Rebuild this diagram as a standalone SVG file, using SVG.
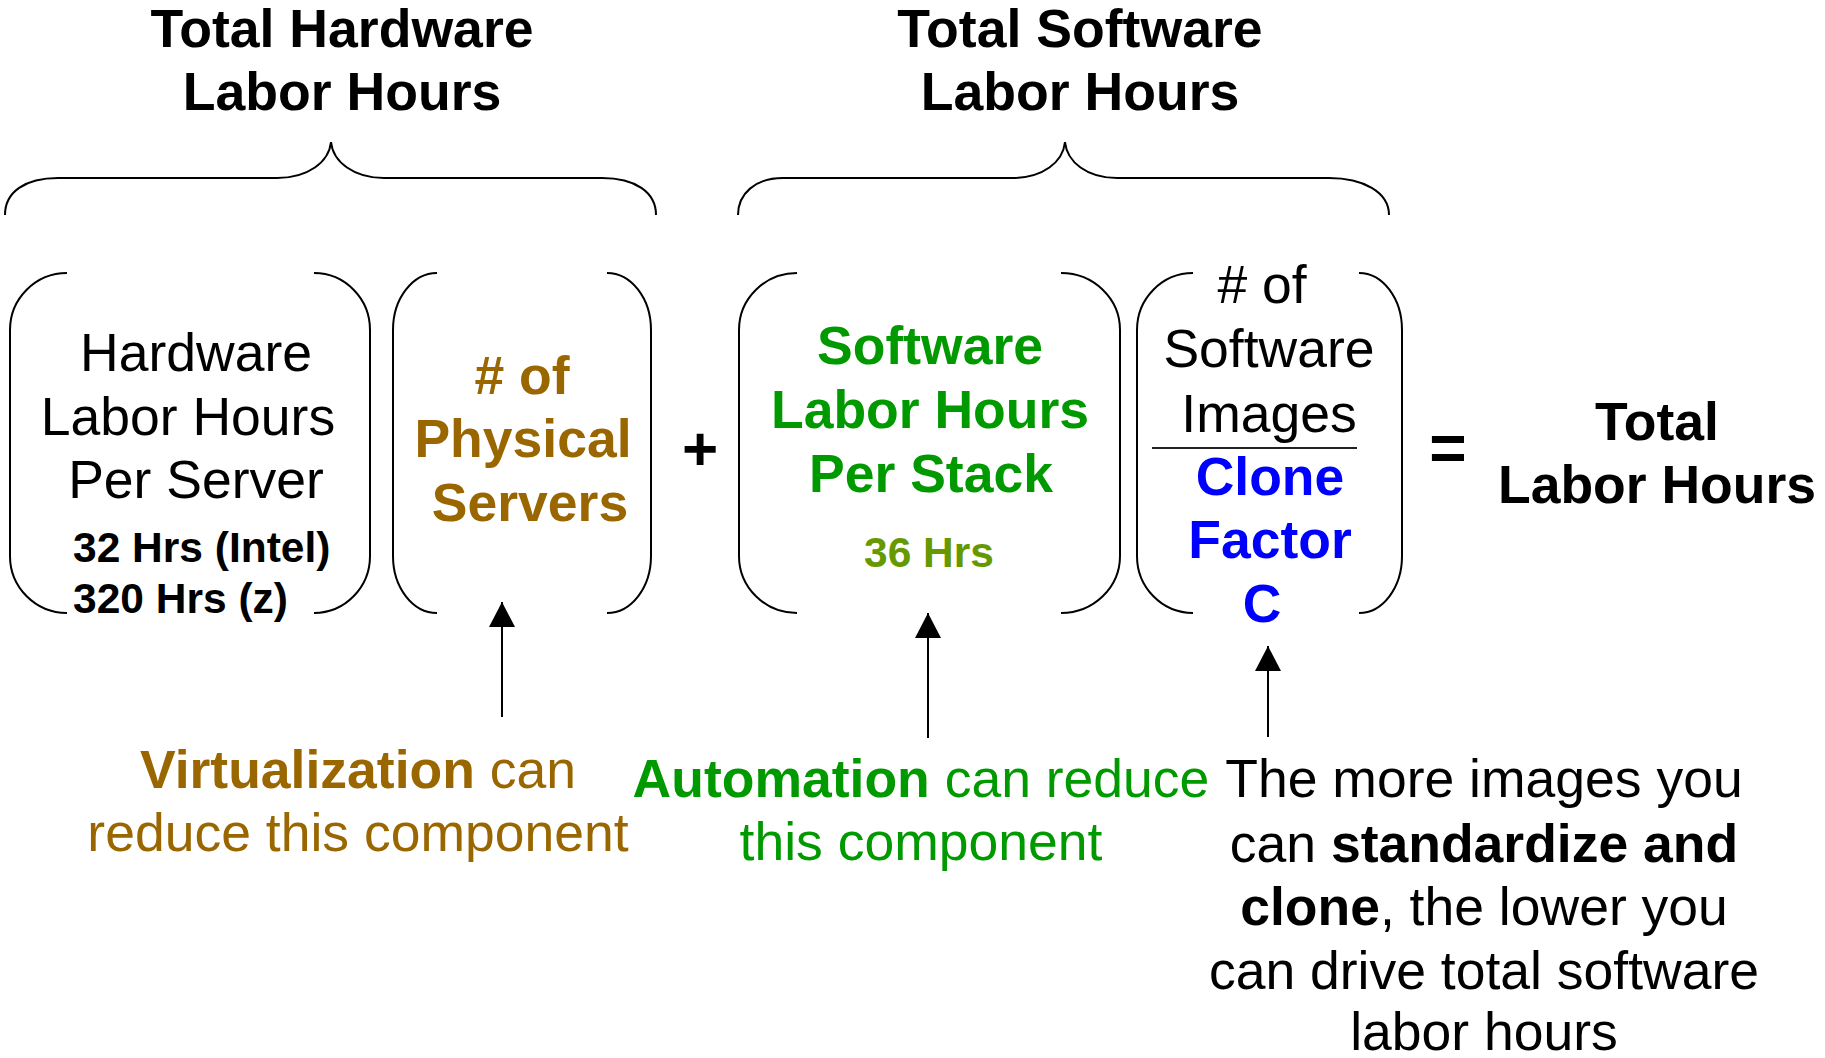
<svg xmlns="http://www.w3.org/2000/svg" width="1825" height="1058" viewBox="0 0 1825 1058">
  <style>
    text { font-family: "Liberation Sans", Arial, sans-serif; font-size: 53.5px; text-anchor: middle; fill: #000; }
    .b { font-weight: bold; }
    .title { font-weight: bold; font-size: 53.6px; }
    .small { font-weight: bold; font-size: 42.5px; }
    .brown { fill: #996600; }
    .green { fill: #009900; }
    .olive { fill: #669900; }
    .blue { fill: #0000ff; }
    .line { fill: none; stroke: #000; stroke-width: 2; }
  </style>
  <defs>
    <marker id="head" markerUnits="userSpaceOnUse" markerWidth="26" markerHeight="26" refX="25" refY="13" orient="auto">
      <path d="M0,0 L25,13 L0,26 Z" fill="#000"/>
    </marker>
  </defs>
  <rect width="1825" height="1058" fill="#fff"/>

  <!-- group headings with their curly braces -->
  <g id="hardware-total">
    <text class="title" x="342" y="47">Total Hardware</text>
    <text class="title" x="342" y="110">Labor Hours</text>
    <path class="line" d="M5,215 C5,192 25,178 58,178 L277,178 C308,178 329,162 331,142 C333,162 354,178 384,178 L602,178 C635,178 656,192 656,215"/>
  </g>
  <g id="software-total">
    <text class="title" x="1080" y="47">Total Software</text>
    <text class="title" x="1080" y="110">Labor Hours</text>
    <path class="line" d="M738,215 C738,194 755,178 783,178 L1012,178 C1043,178 1063,162 1065,142 C1067,162 1087,178 1117,178 L1329,178 C1363,178 1389,192 1389,215"/>
  </g>

  <!-- factor: hardware hours per server -->
  <g id="hw-per-server">
    <path class="line" d="M67,273 A57,57 0 0 0 10,330 V556 A57,57 0 0 0 67,613"/>
    <path class="line" d="M314,273 A56,57 0 0 1 370,330 V556 A56,57 0 0 1 314,613"/>
    <text x="196" y="371">Hardware</text>
    <text x="188" y="435">Labor Hours</text>
    <text x="196" y="498">Per Server</text>
    <text class="small" x="73" y="562" style="text-anchor:start">32 Hrs (Intel)</text>
    <text class="small" x="73" y="613" style="text-anchor:start">320 Hrs (z)</text>
  </g>

  <!-- factor: number of physical servers -->
  <g id="physical-servers">
    <path class="line" d="M437,273 A44,57 0 0 0 393,330 V556 A44,57 0 0 0 437,613"/>
    <path class="line" d="M607,273 A44,57 0 0 1 651,330 V556 A44,57 0 0 1 607,613"/>
    <text class="b brown" x="522" y="394"># of</text>
    <text class="b brown" x="523" y="457">Physical</text>
    <text class="b brown" x="530" y="521">Servers</text>
  </g>

  <g id="plus">
    <text class="b" x="700" y="470" style="font-size:62px">+</text>
  </g>

  <!-- factor: software hours per stack -->
  <g id="sw-per-stack">
    <path class="line" d="M797,273 A58,57 0 0 0 739,330 V556 A58,57 0 0 0 797,613"/>
    <path class="line" d="M1061,273 A59,57 0 0 1 1120,330 V556 A59,57 0 0 1 1061,613"/>
    <text class="b green" x="930" y="364">Software</text>
    <text class="b green" x="930" y="428">Labor Hours</text>
    <text class="b green" x="931" y="492">Per Stack</text>
    <text class="small olive" x="929" y="567">36 Hrs</text>
  </g>

  <!-- factor: images divided by clone factor -->
  <g id="images-over-clone">
    <path class="line" d="M1193,273 A56,57 0 0 0 1137,330 V556 A56,57 0 0 0 1193,613"/>
    <path class="line" d="M1359,273 A43,57 0 0 1 1402,330 V556 A43,57 0 0 1 1359,613"/>
    <text x="1262" y="303"># of</text>
    <text x="1269" y="367">Software</text>
    <text x="1269" y="432">Images</text>
    <line x1="1152" y1="448" x2="1357" y2="448" stroke="#222" stroke-width="2"/>
    <text class="b blue" x="1270" y="495">Clone</text>
    <text class="b blue" x="1270" y="558">Factor</text>
    <text class="b blue" x="1262" y="622">C</text>
  </g>

  <g id="equals">
    <text class="b" x="1448" y="470" style="font-size:64px">=</text>
  </g>

  <g id="total">
    <text class="b" x="1657" y="440">Total</text>
    <text class="b" x="1657" y="503">Labor Hours</text>
  </g>

  <!-- explanatory notes -->
  <g id="note-virtualization">
    <text class="brown" x="358" y="788"><tspan class="b">Virtualization</tspan> can</text>
    <text class="brown" x="358" y="851">reduce this component</text>
  </g>
  <g id="note-automation">
    <text class="green" x="921" y="797"><tspan class="b">Automation</tspan> can reduce</text>
    <text class="green" x="921" y="860">this component</text>
  </g>
  <g id="note-cloning">
    <text x="1484" y="797">The more images you</text>
    <text x="1484" y="862">can <tspan class="b">standardize and</tspan></text>
    <text x="1484" y="925"><tspan class="b">clone</tspan>, the lower you</text>
    <text x="1484" y="989">can drive total software</text>
    <text x="1484" y="1050">labor hours</text>
  </g>

  <!-- connectors: notes point up at the factor they affect -->
  <g id="connectors">
    <line class="line" x1="502" y1="717" x2="502" y2="602" marker-end="url(#head)"/>
    <line class="line" x1="928" y1="738" x2="928" y2="613" marker-end="url(#head)"/>
    <line class="line" x1="1268" y1="737" x2="1268" y2="646" marker-end="url(#head)"/>
  </g>
</svg>
